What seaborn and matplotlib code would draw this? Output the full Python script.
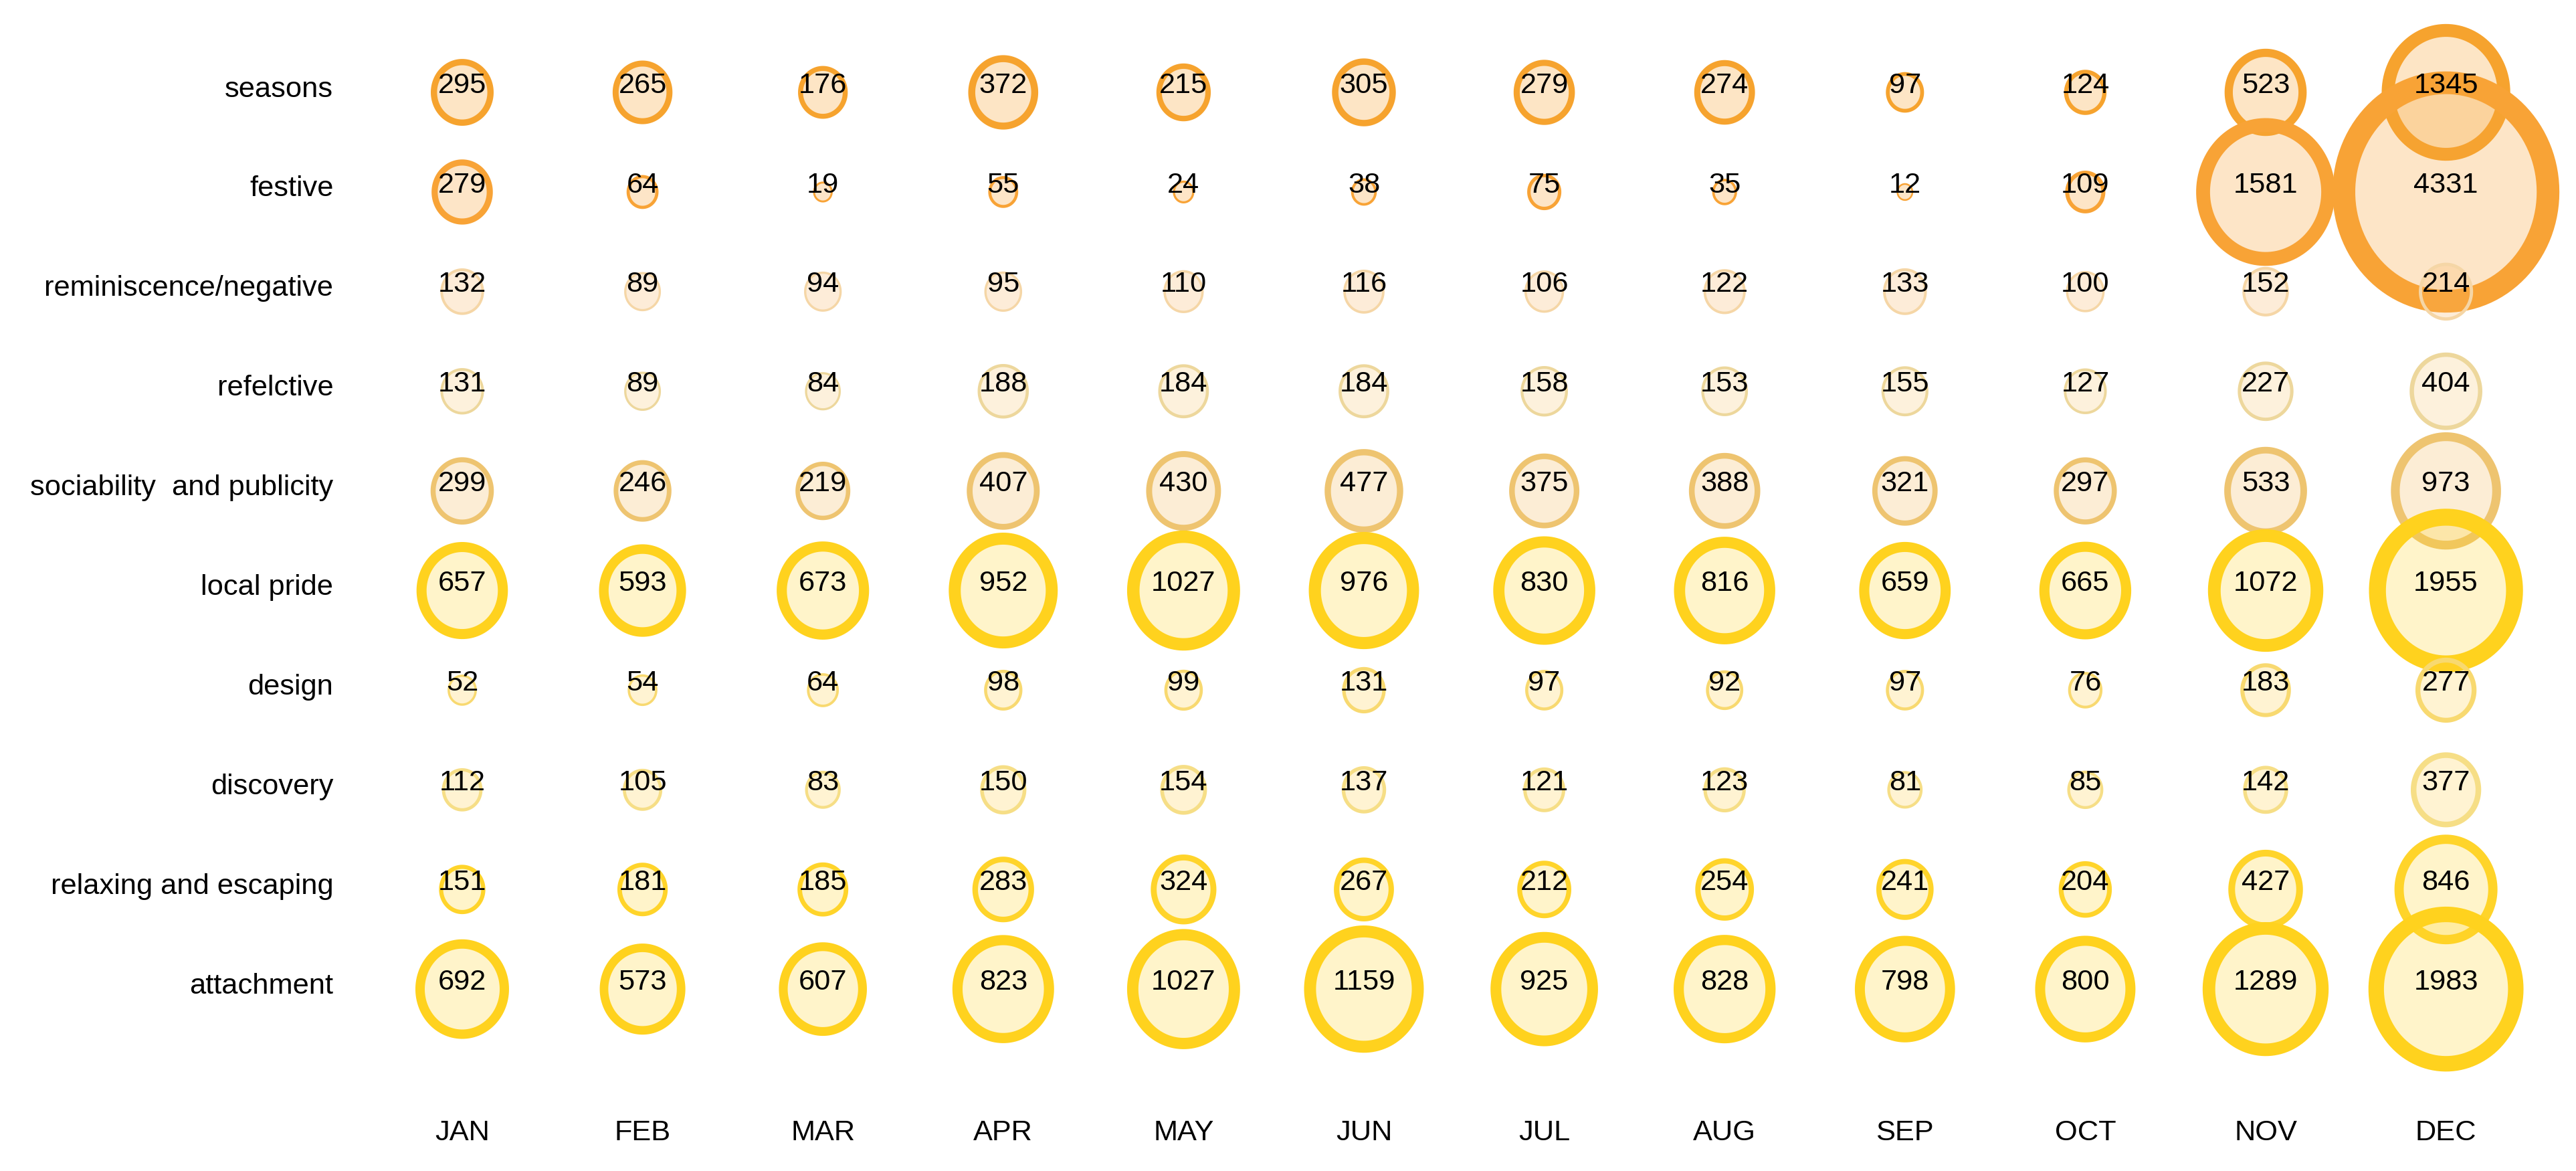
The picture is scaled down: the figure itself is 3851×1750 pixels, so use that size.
import numpy as np
import pandas as pd
import seaborn as sns
import matplotlib.pyplot as plt
from matplotlib.path import Path

months = ['JAN', 'FEB', 'MAR', 'APR', 'MAY', 'JUN', 'JUL', 'AUG', 'SEP', 'OCT', 'NOV', 'DEC']
categories = ['seasons', 'festive', 'reminiscence/negative', 'refelctive',
              'sociability  and publicity', 'local pride', 'design', 'discovery',
              'relaxing and escaping', 'attachment']

seasons = [295, 265, 176, 372, 215, 305, 279, 274, 97, 124, 523, 1345]
festive = [279, 64, 19, 55, 24, 38, 75, 35, 12, 109, 1581, 4331]
reminiscence = [132, 89, 94, 95, 110, 116, 106, 122, 133, 100, 152, 214]
refelctive = [131, 89, 84, 188, 184, 184, 158, 153, 155, 127, 227, 404]
sociability = [299, 246, 219, 407, 430, 477, 375, 388, 321, 297, 533, 973]
local_pride = [657, 593, 673, 952, 1027, 976, 830, 816, 659, 665, 1072, 1955]
design = [52, 54, 64, 98, 99, 131, 97, 92, 97, 76, 183, 277]
discovery = [112, 105, 83, 150, 154, 137, 121, 123, 81, 85, 142, 377]
relaxing = [151, 181, 185, 283, 324, 267, 212, 254, 241, 204, 427, 846]
attachment = [692, 573, 607, 823, 1027, 1159, 925, 828, 798, 800, 1289, 1983]

rows = [seasons, festive, reminiscence, refelctive, sociability,
        local_pride, design, discovery, relaxing, attachment]

# ring colour, fill colour (with alpha) and ring thickness per row
edge_colors = ['#F6A32E', '#F8A336', '#F5D6A6', '#EDD79C', '#EEC470',
               '#FFD21E', '#F8D970', '#F6DE86', '#FFD42A', '#FFD21E']
fill_colors = ['#F9A63A4A', '#F9A63A48', '#F9B25A3C', '#F7C06038', '#F4B85A40',
               '#FFD21E3C', '#FFD0403C', '#FFD0403C', '#FFD21E3C', '#FFD21E3C']
edge_frac = [0.10, 0.10, 0.06, 0.06, 0.08, 0.11, 0.08, 0.08, 0.09, 0.10]

DPI = 200
W, H = 3851, 1750

df = pd.DataFrame({
    'month': np.tile(np.arange(len(months)), len(categories)),
    'row': np.repeat(np.arange(len(categories)), len(months)),
    'category': np.repeat(categories, len(months)),
    'value': np.concatenate(rows),
})

# bubble width in pixels (area roughly proportional to value)
stretch = 1.07
width_px = 5.04 * np.sqrt(df['value']) + 7.4
ring_px = width_px * np.array([edge_frac[r] for r in df['row']])
height_pt = (width_px - ring_px) * stretch * 72 / DPI
df['s'] = height_pt ** 2
df['lw'] = ring_px * 72 / DPI

# slightly tall ellipse marker
t = np.linspace(0, 2 * np.pi, 120)
ellipse = Path(np.column_stack([np.cos(t) / stretch, np.sin(t)]), closed=True)

sns.set_theme(style='white')
plt.rcParams['font.family'] = ['Liberation Sans', 'DejaVu Sans']

fig = plt.figure(figsize=(W / DPI, H / DPI), dpi=DPI)
ax = fig.add_axes([540 / W, 110 / H, (W - 540) / W, 1640 / H])

sns.scatterplot(data=df, x='month', y='row', hue='category',
                palette=dict(zip(categories, fill_colors)),
                s=df['s'].values, linewidths=df['lw'].values,
                edgecolor=[edge_colors[r] for r in df['row']],
                marker=ellipse, legend=False, ax=ax, clip_on=False, zorder=2)

for _, r in df.iterrows():
    ax.text(r['month'], r['row'] - 0.07, str(r['value']), ha='center', va='center',
            fontsize=15.6, color='black', zorder=5)

ax.set_xlim(-0.560, 11.721)
ax.set_ylim(10.087, -0.927)
ax.set_xticks(range(len(months)), months)
ax.set_yticks(np.arange(len(categories)) - 0.06, categories)
ax.tick_params(axis='both', length=0, labelsize=15.6, colors='black')
ax.tick_params(axis='x', pad=12)
ax.tick_params(axis='y', pad=15)
ax.set_xlabel('')
ax.set_ylabel('')
sns.despine(ax=ax, left=True, bottom=True)

fig.savefig('out.png', dpi=DPI, facecolor='white')
